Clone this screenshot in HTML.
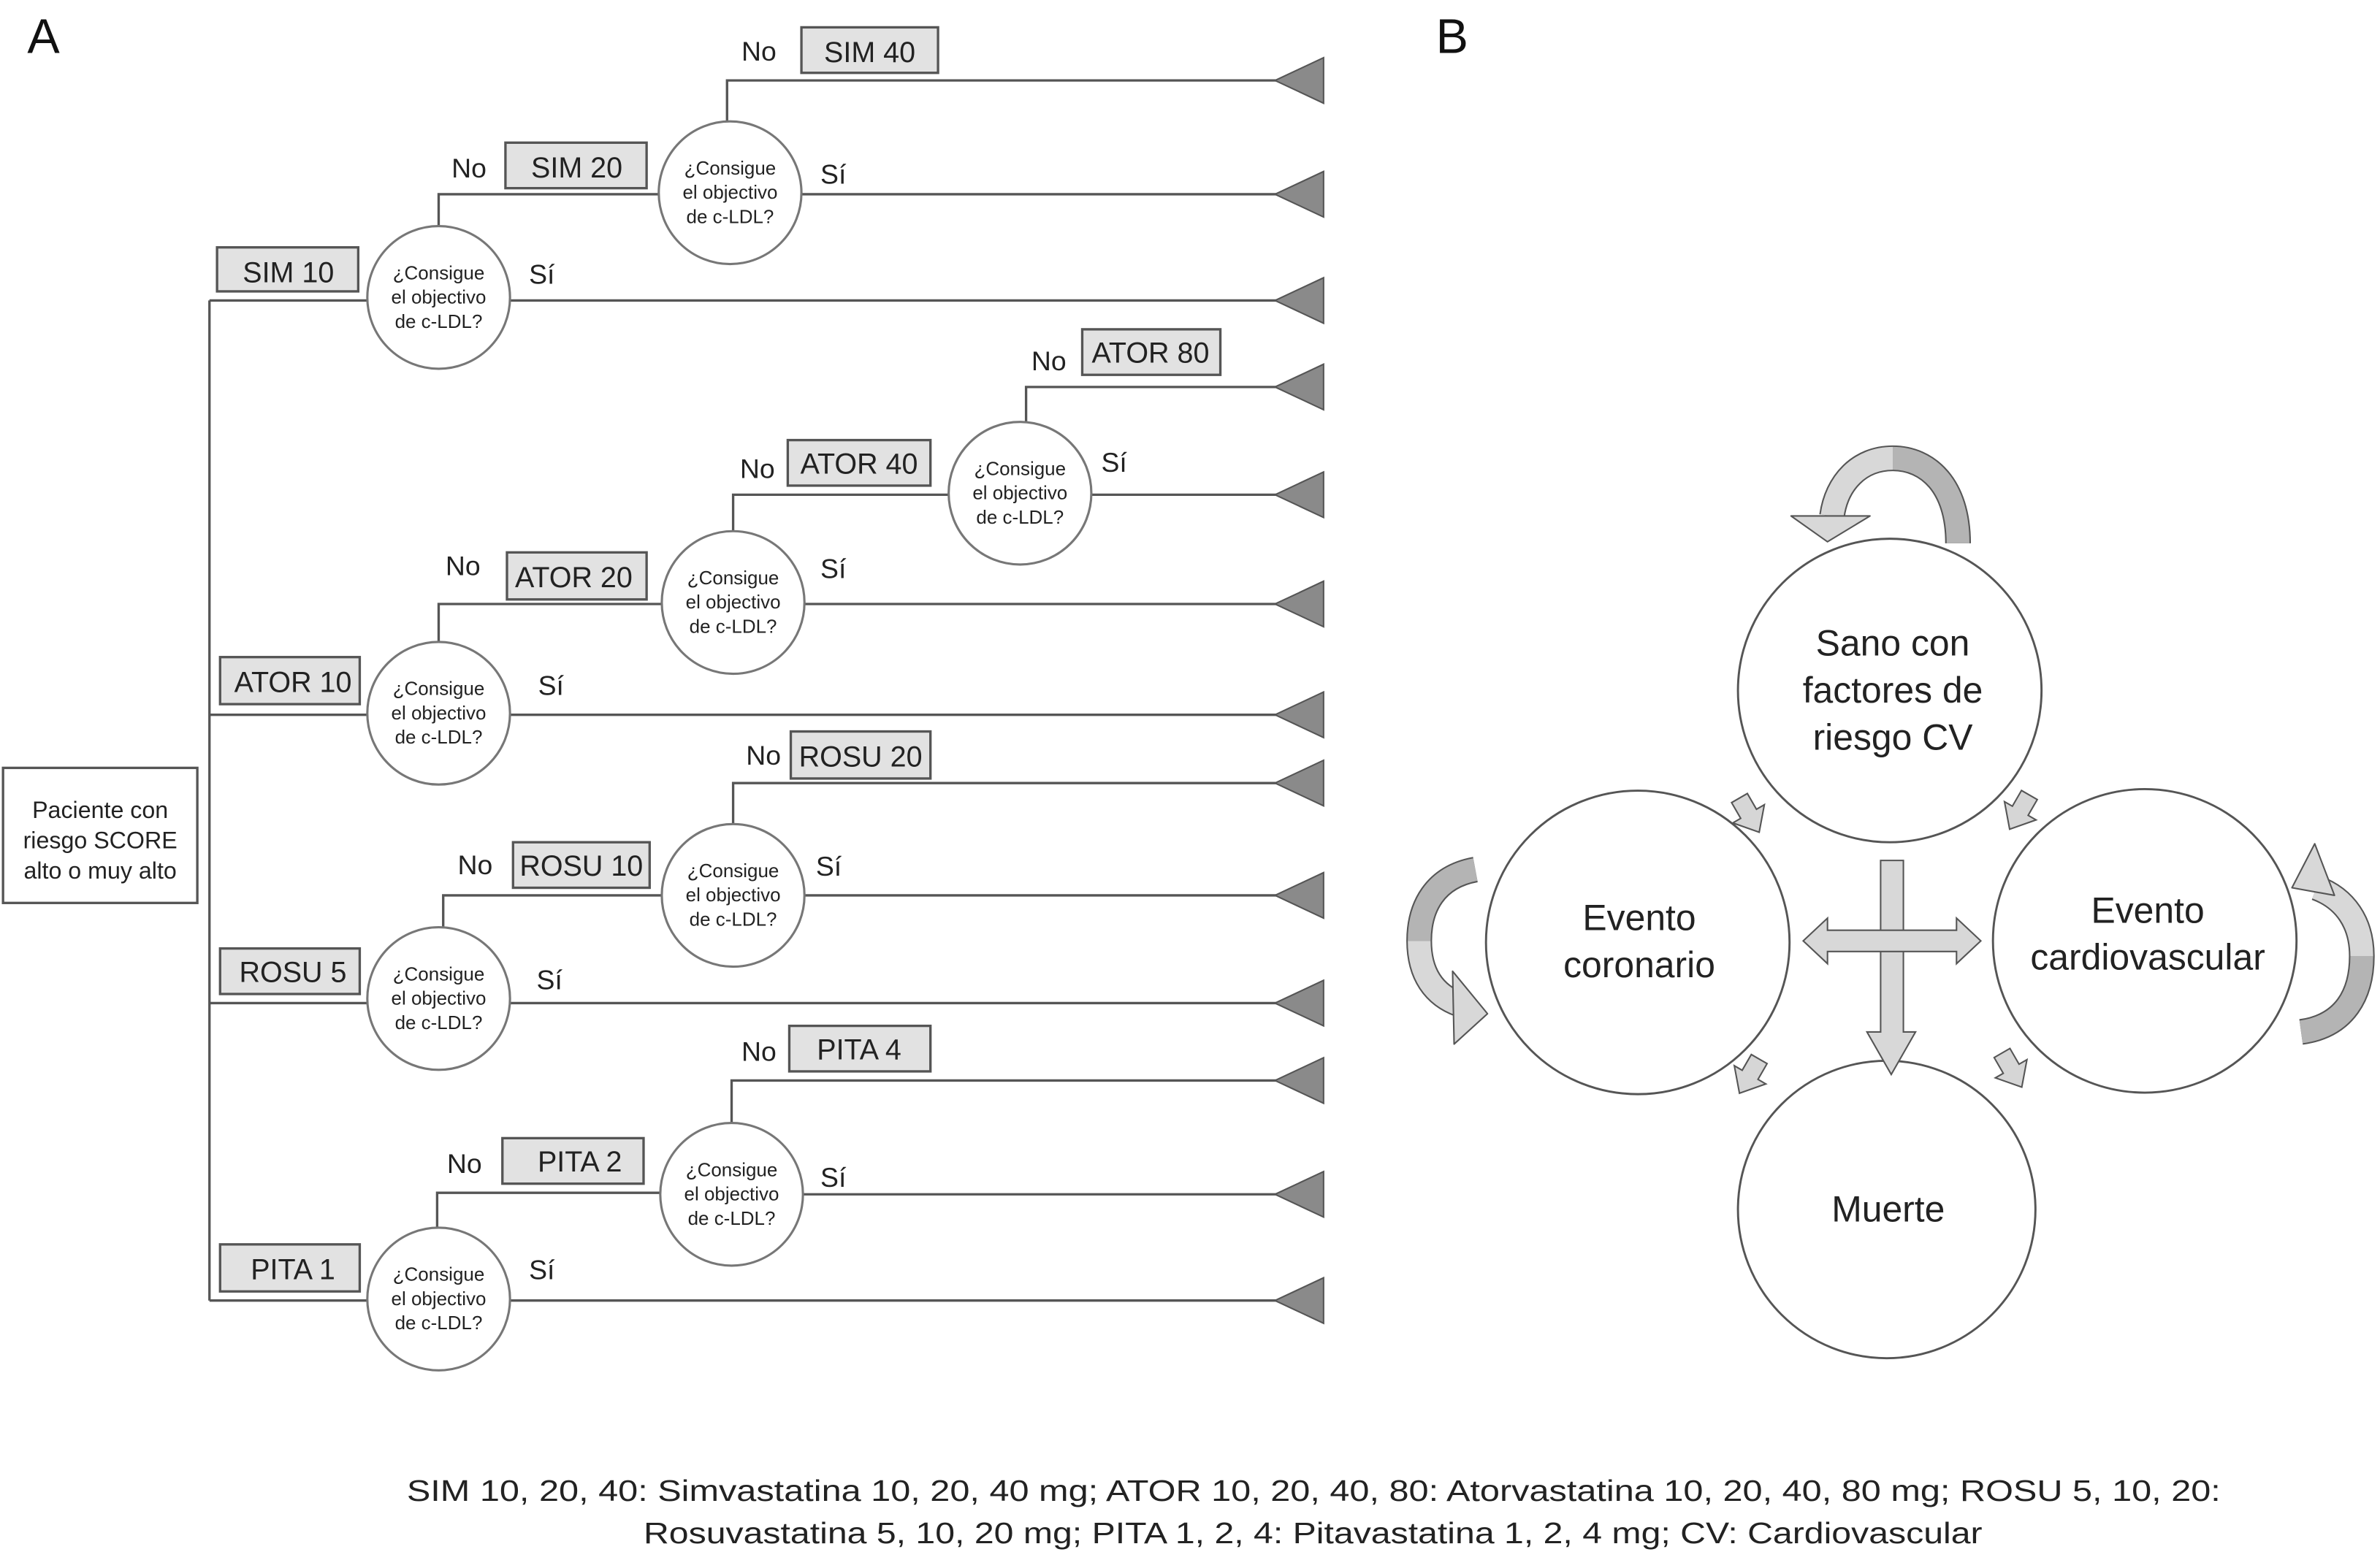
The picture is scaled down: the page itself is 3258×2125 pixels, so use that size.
<!DOCTYPE html>
<html><head><meta charset="utf-8"><style>html,body{margin:0;padding:0;background:#fff}svg{display:block}</style></head>
<body>
<svg width="3258" height="2125" viewBox="0 0 1568 1022.7" xmlns="http://www.w3.org/2000/svg" font-family="Liberation Sans, Arial, sans-serif">
<defs>
<g id="tri"><polygon points="-32,0 0,-15 0,15" fill="#8a8a8a" stroke="#555" stroke-width="1"/></g>
<g id="q">
<circle r="47" fill="#fff" stroke="#777" stroke-width="1.5"/>
<text text-anchor="middle" font-size="12.5" fill="#222"><tspan x="0" y="-12">¿Consigue</tspan><tspan x="0" y="4">el objectivo</tspan><tspan x="0" y="20">de c-LDL?</tspan></text>
</g>
<g id="sa"><polygon points="-6,-14 6,-14 6,-2 12,-2 0,12 -12,-2 -6,-2" fill="#d6d6d6" stroke="#555" stroke-width="1"/></g>
</defs>
<g stroke="#555" stroke-width="1.6" fill="none">
<!-- trunk -->
<line x1="138" y1="198" x2="138" y2="857"/>
<line x1="138" y1="198" x2="242" y2="198"/>
<line x1="138" y1="471" x2="242" y2="471"/>
<line x1="138" y1="661" x2="242" y2="661"/>
<line x1="138" y1="857" x2="242" y2="857"/>
<!-- SIM -->
<line x1="336" y1="198" x2="842" y2="198"/>
<polyline points="289,149 289,128 434,128"/>
<line x1="528" y1="128" x2="842" y2="128"/>
<polyline points="479,80 479,53 842,53"/>
<!-- ATOR -->
<line x1="336" y1="471" x2="842" y2="471"/>
<polyline points="289,423 289,398 436,398"/>
<line x1="530" y1="398" x2="842" y2="398"/>
<polyline points="483,350 483,326 625,326"/>
<line x1="719" y1="326" x2="842" y2="326"/>
<polyline points="676,278 676,255 842,255"/>
<!-- ROSU -->
<line x1="336" y1="661" x2="842" y2="661"/>
<polyline points="292,611 292,590 436,590"/>
<line x1="530" y1="590" x2="842" y2="590"/>
<polyline points="483,543 483,516 842,516"/>
<!-- PITA -->
<line x1="336" y1="857" x2="842" y2="857"/>
<polyline points="288,809 288,786 435,786"/>
<line x1="529" y1="787" x2="842" y2="787"/>
<polyline points="482,740 482,712 842,712"/>
</g>
<g>
<use href="#tri" x="872" y="53"/><use href="#tri" x="872" y="128"/><use href="#tri" x="872" y="198"/>
<use href="#tri" x="872" y="255"/><use href="#tri" x="872" y="326"/><use href="#tri" x="872" y="398"/>
<use href="#tri" x="872" y="471"/><use href="#tri" x="872" y="516"/><use href="#tri" x="872" y="590"/>
<use href="#tri" x="872" y="661"/><use href="#tri" x="872" y="712"/><use href="#tri" x="872" y="787"/>
<use href="#tri" x="872" y="857"/>
</g>
<g>
<use href="#q" x="289" y="196"/><use href="#q" x="481" y="127"/>
<use href="#q" x="289" y="470"/><use href="#q" x="483" y="397"/><use href="#q" x="672" y="325"/>
<use href="#q" x="289" y="658"/><use href="#q" x="483" y="590"/>
<use href="#q" x="289" y="856"/><use href="#q" x="482" y="787"/>
</g>
<!-- boxes -->
<g fill="#e2e2e2" stroke="#555" stroke-width="1.6">
<rect x="143" y="163" width="93" height="29"/>
<rect x="333" y="94" width="93" height="30"/>
<rect x="528" y="18" width="90" height="30"/>
<rect x="145" y="433" width="92" height="31"/>
<rect x="334" y="364" width="92" height="31"/>
<rect x="519" y="290" width="94" height="30"/>
<rect x="713" y="217" width="91" height="30"/>
<rect x="145" y="625" width="92" height="30"/>
<rect x="338" y="555" width="90" height="30"/>
<rect x="521" y="482" width="92" height="31"/>
<rect x="145" y="820" width="92" height="31"/>
<rect x="331" y="750" width="93" height="30"/>
<rect x="520" y="676" width="93" height="30"/>
</g>
<rect x="2" y="506" width="128" height="89" fill="#fff" stroke="#555" stroke-width="1.6"/>
<g font-size="19" fill="#222" text-anchor="middle">
<text x="190" y="186">SIM 10</text>
<text x="380" y="117">SIM 20</text>
<text x="573" y="41">SIM 40</text>
<text x="193" y="456">ATOR 10</text>
<text x="378" y="387">ATOR 20</text>
<text x="566" y="312">ATOR 40</text>
<text x="758" y="239">ATOR 80</text>
<text x="193" y="647">ROSU 5</text>
<text x="383" y="577">ROSU 10</text>
<text x="567" y="505">ROSU 20</text>
<text x="193" y="843">PITA 1</text>
<text x="382" y="772">PITA 2</text>
<text x="566" y="698">PITA 4</text>
</g>
<g font-size="18" fill="#222" text-anchor="middle">
<text x="357" y="187">Sí</text><text x="549" y="121">Sí</text>
<text x="363" y="458">Sí</text><text x="549" y="381">Sí</text><text x="734" y="311">Sí</text>
<text x="362" y="652">Sí</text><text x="546" y="577">Sí</text>
<text x="357" y="843">Sí</text><text x="549" y="782">Sí</text>
<text x="309" y="117">No</text><text x="500" y="40">No</text>
<text x="305" y="379">No</text><text x="499" y="315">No</text><text x="691" y="244">No</text>
<text x="313" y="576">No</text><text x="503" y="504">No</text>
<text x="306" y="773">No</text><text x="500" y="699">No</text>
</g>
<text text-anchor="middle" font-size="15.5" fill="#222"><tspan x="66" y="539">Paciente con</tspan><tspan x="66" y="559">riesgo SCORE</tspan><tspan x="66" y="579">alto o muy alto</tspan></text>
<text x="18" y="35" font-size="32" fill="#111">A</text>
<text x="946" y="35" font-size="32" fill="#111">B</text>

<!-- Panel B -->
<g fill="#fff" stroke="#555" stroke-width="1.4">
<circle cx="1245" cy="455" r="100"/>
<circle cx="1079" cy="621" r="100"/>
<circle cx="1413" cy="620" r="100"/>
<circle cx="1243" cy="797" r="98"/>
</g>
<!-- curved arrows -->
<g stroke-linejoin="round">
<path d="M1290,358 C1290,320 1270,302 1247,302 C1225,302 1210,318 1207,340" fill="none" stroke="#555" stroke-width="17"/>
<path d="M1247,302 C1270,302 1290,320 1290,358" fill="none" stroke="#b4b4b4" stroke-width="15"/>
<path d="M1247,302 C1225,302 1210,318 1207,340" fill="none" stroke="#d8d8d8" stroke-width="15"/>
<polygon points="1180,340 1232,340 1204,357" fill="#d8d8d8" stroke="#555" stroke-width="1"/>

<path d="M972,573 C945,578 935,598 935,620 C935,642 945,656 962,662" fill="none" stroke="#555" stroke-width="17"/>
<path d="M972,573 C945,578 935,598 935,620" fill="none" stroke="#b4b4b4" stroke-width="15"/>
<path d="M935,620 C935,642 945,656 962,662" fill="none" stroke="#d8d8d8" stroke-width="15"/>
<polygon points="957,640 980,668 958,688" fill="#d8d8d8" stroke="#555" stroke-width="1"/>

<path d="M1516,680 C1545,676 1556,655 1556,630 C1556,608 1545,592 1526,585" fill="none" stroke="#555" stroke-width="17"/>
<path d="M1516,680 C1545,676 1556,655 1556,630" fill="none" stroke="#b4b4b4" stroke-width="15"/>
<path d="M1556,630 C1556,608 1545,592 1526,585" fill="none" stroke="#d8d8d8" stroke-width="15"/>
<polygon points="1510,585 1525,556 1538,590" fill="#d8d8d8" stroke="#555" stroke-width="1"/>
</g>
<!-- cross arrows -->
<polygon points="1239,567 1254,567 1254,680 1262,680 1246,708 1230,680 1239,680" fill="#d8d8d8" stroke="#555" stroke-width="1"/>
<polygon points="1188,620 1204,605 1204,613 1289,613 1289,605 1305,620 1289,635 1289,627 1204,627 1204,635" fill="#d8d8d8" stroke="#555" stroke-width="1"/>
<!-- small diagonal arrows -->
<use href="#sa" transform="translate(1153,538) rotate(-30)"/>
<use href="#sa" transform="translate(1330,536) rotate(30)"/>
<use href="#sa" transform="translate(1152,710) rotate(30)"/>
<use href="#sa" transform="translate(1326,706) rotate(-30)"/>
<g font-size="24" fill="#222" text-anchor="middle">
<text x="1247" y="432">Sano con</text><text x="1247" y="463">factores de</text><text x="1247" y="494">riesgo CV</text>
<text x="1080" y="613">Evento</text><text x="1080" y="644">coronario</text>
<text x="1415" y="608">Evento</text><text x="1415" y="639">cardiovascular</text>
<text x="1244" y="805">Muerte</text>
</g>
<g font-size="19.5" fill="#222">
<text x="268" y="989" textLength="1195" lengthAdjust="spacingAndGlyphs">SIM 10, 20, 40: Simvastatina  10, 20, 40 mg; ATOR 10, 20, 40, 80: Atorvastatina 10, 20, 40, 80 mg; ROSU 5, 10, 20:</text>
<text x="424" y="1017" textLength="882" lengthAdjust="spacingAndGlyphs">Rosuvastatina 5, 10, 20 mg; PITA 1, 2, 4: Pitavastatina 1, 2, 4 mg; CV: Cardiovascular</text>
</g>
</svg>
</body></html>
